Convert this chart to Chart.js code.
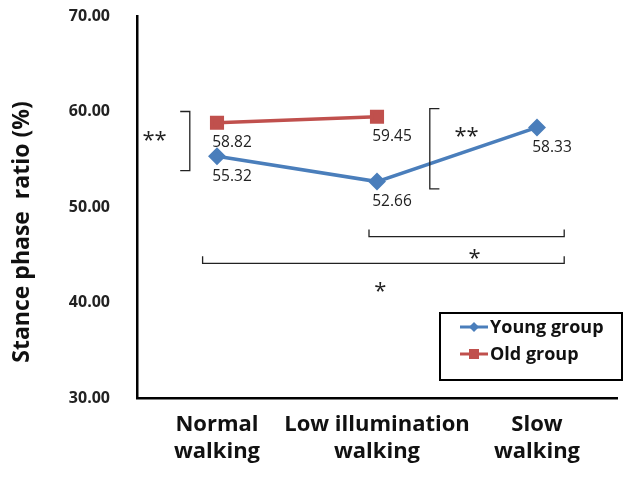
<!DOCTYPE html>
<html><head><meta charset="utf-8">
<script src="https://cdn.jsdelivr.net/npm/chart.js@4"></script>
<style>html,body{margin:0;padding:0;background:#fff}#wrap{width:628px;height:481px}</style>
</head><body><div id="wrap"><canvas id="c" width="628" height="481"></canvas></div>
<script>
const categories = [["Normal","walking"],["Low illumination","walking"],["Slow","walking"]];
const youngValues = [55.32, 52.66, 58.33];
const oldValues = [58.82, 59.45, null];
const seriesNames = ["Young group", "Old group"];
const yTicks = [30, 40, 50, 60, 70];
const yTitle = "Stance phase  ratio (%)";

const FONT = "'Open Sans', 'Noto Sans', sans-serif";
const BLUE = '#4a7ebb', RED = '#c0504d';

const annot = {
  id: 'annot',
  afterDatasetsDraw(chart) {
    const ctx = chart.ctx, x = chart.scales.x, y = chart.scales.y;
    const px = v => x.getPixelForValue(0) + v * (x.getPixelForValue(1) - x.getPixelForValue(0));
    const py = v => y.getPixelForValue(v);
    ctx.save();
    // y title
    ctx.save();
    ctx.translate(22, 232); ctx.rotate(-Math.PI / 2);
    ctx.font = "bold 23px " + FONT; ctx.fillStyle = '#111'; ctx.textAlign = 'center'; ctx.textBaseline = 'middle';
    ctx.fillText(yTitle, 0, 0);
    ctx.restore();
    // data labels
    ctx.font = "15.5px " + FONT; ctx.fillStyle = '#222'; ctx.textAlign = 'center'; ctx.textBaseline = 'middle';
    chart.data.datasets.forEach((ds, di) => {
      const meta = chart.getDatasetMeta(di);
      meta.data.forEach((pt, i) => {
        if (ds.data[i] == null) return;
        ctx.fillText(ds.data[i].toFixed(2), pt.x + 15, pt.y + 20);
      });
    });
    // brackets
    ctx.strokeStyle = '#222'; ctx.lineWidth = 1.3;
    const vbr = (x1, x2, yt, yb) => { ctx.beginPath(); ctx.moveTo(px(x2), py(yt)); ctx.lineTo(px(x1), py(yt)); ctx.lineTo(px(x1), py(yb)); ctx.lineTo(px(x2), py(yb)); ctx.stroke(); };
    vbr(-0.17, -0.23, 60, 53.8);
    vbr(1.33, 1.39, 60.3, 51.9);
    const hbr = (x1, x2, yv) => { ctx.beginPath(); ctx.moveTo(px(x1), py(yv) - 7); ctx.lineTo(px(x1), py(yv)); ctx.lineTo(px(x2), py(yv)); ctx.lineTo(px(x2), py(yv) - 7); ctx.stroke(); };
    hbr(0.95, 2.17, 46.9);
    hbr(-0.09, 2.17, 44.1);
    ctx.font = "22px " + FONT; ctx.fillStyle = '#222';
    ctx.fillText('**', px(-0.39), py(57.4) + 4);
    ctx.fillText('**', px(1.56), py(57.8) + 4);
    ctx.fillText('*', px(1.61), py(45.1) + 5);
    ctx.fillText('*', px(1.02), py(41.7) + 5);
    // legend
    const lx = 440, ly = 313, lw = 182, lh = 67;
    ctx.fillStyle = '#fff'; ctx.fillRect(lx, ly, lw, lh);
    ctx.strokeStyle = '#000'; ctx.lineWidth = 2; ctx.strokeRect(lx, ly, lw, lh);
    ctx.font = "bold 18px " + FONT; ctx.textAlign = 'left';
    chart.data.datasets.forEach((ds, di) => {
      const yy = ly + 14 + di * 27;
      ctx.strokeStyle = ds.borderColor; ctx.lineWidth = 3;
      ctx.beginPath(); ctx.moveTo(lx + 20, yy); ctx.lineTo(lx + 48, yy); ctx.stroke();
      ctx.fillStyle = ds.backgroundColor;
      if (di === 0) { ctx.beginPath(); ctx.moveTo(lx + 34, yy - 5); ctx.lineTo(lx + 39, yy); ctx.lineTo(lx + 34, yy + 5); ctx.lineTo(lx + 29, yy); ctx.closePath(); ctx.fill(); }
      else { ctx.fillRect(lx + 29, yy - 5, 10, 10); }
      ctx.fillStyle = '#111';
      ctx.fillText(ds.label, lx + 50, yy + 1);
    });
    ctx.restore();
  }
};

new Chart(document.getElementById('c'), {
  type: 'line',
  data: {
    labels: categories,
    datasets: [
      { label: seriesNames[0], data: youngValues, borderColor: BLUE, backgroundColor: BLUE, borderWidth: 3.5, pointStyle: 'rectRot', pointRadius: 6.5, pointHoverRadius: 6.5, tension: 0 },
      { label: seriesNames[1], data: oldValues, borderColor: RED, backgroundColor: RED, borderWidth: 3.5, pointStyle: 'rect', pointRadius: 7.5, pointHoverRadius: 7.5, tension: 0 }
    ]
  },
  options: {
    responsive: false, animation: false, devicePixelRatio: 1,
    layout: { padding: { top: 16, right: 6, left: 0, bottom: 0 } },
    plugins: { legend: { display: false }, tooltip: { enabled: false } },
    scales: {
      x: {
        offset: true,
        grid: { display: false, drawTicks: false, offset: true },
        border: { color: '#000', width: 2.5 },
        ticks: { color: '#111', font: { family: FONT, size: 22, weight: 'bold' }, padding: 14, maxRotation: 0, autoSkip: false },
        afterFit(s) { s.height = 83; s.paddingLeft = 0; s.paddingRight = 0; }
      },
      y: {
        min: 30, max: 70,
        afterBuildTicks(s) { s.ticks = yTicks.map(v => ({ value: v })); },
        grid: { display: false, drawTicks: true, tickLength: 5, tickColor: '#000' },
        border: { color: '#000', width: 2.5 },
        ticks: { color: '#222', font: { family: FONT, size: 16, weight: 'bold' }, padding: 22, callback: v => Number(v).toFixed(2) },
        title: { display: false },
        afterFit(s) { s.width = 137; s.paddingTop = 0; s.paddingBottom = 0; }
      }
    }
  },
  plugins: [annot]
});
</script></body></html>
